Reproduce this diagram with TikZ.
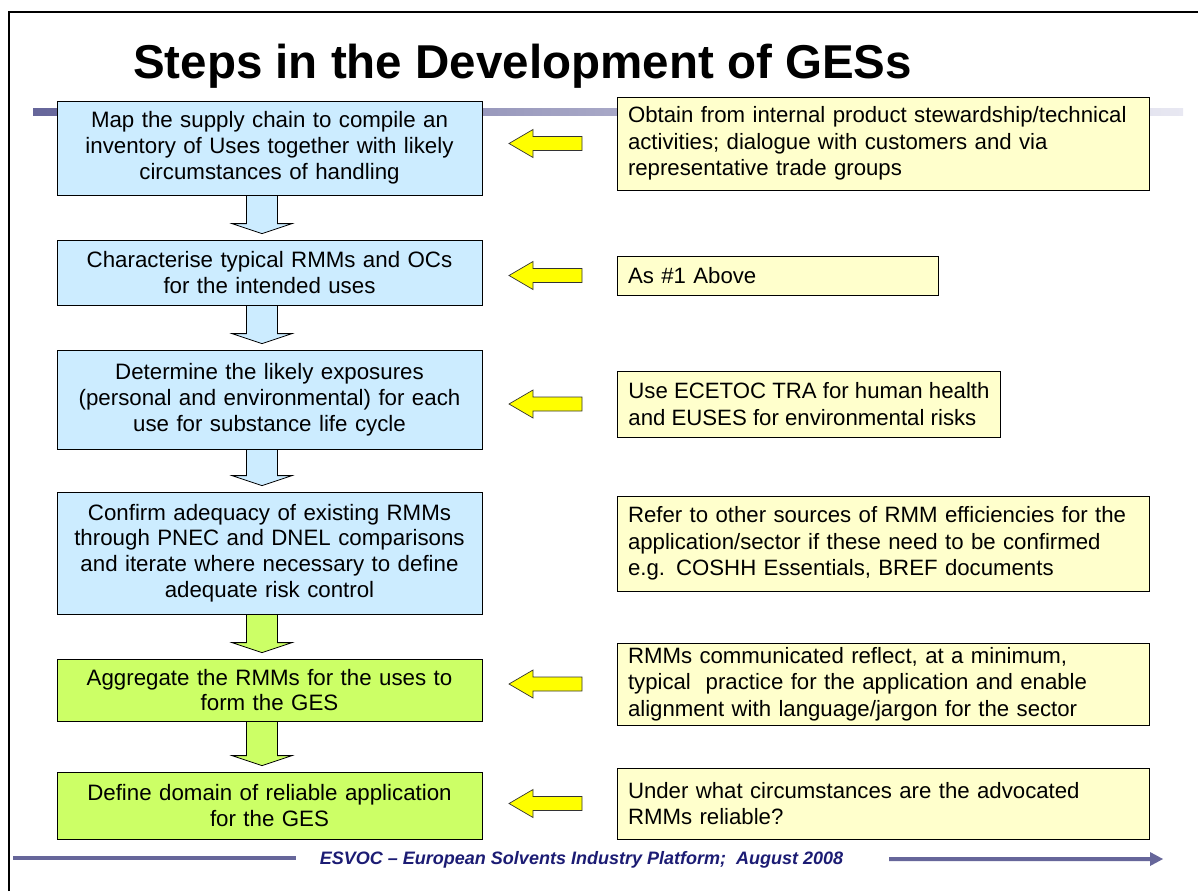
\documentclass[tikz,border=0pt]{standalone}
\usepackage{fontspec}
\setmainfont{Liberation Sans}
\usetikzlibrary{calc}
\definecolor{bluebox}{HTML}{CCECFF}
\definecolor{greenbox}{HTML}{CCFF66}
\definecolor{yelbox}{HTML}{FFFFCC}
\definecolor{yelarrow}{HTML}{FFFF00}
\definecolor{barL}{HTML}{66669A}
\definecolor{barR}{HTML}{E8E8F2}
\definecolor{navy}{HTML}{1C1C74}
\tikzset{
  lbox/.style={draw=black, line width=0.8pt, minimum width=425pt, text width=419pt, align=center, inner xsep=3pt, inner ysep=0pt, font=\fontsize{22.3}{25.8}\selectfont},
  rbox/.style={draw=black, line width=0.8pt, fill=yelbox, inner xsep=11pt, inner ysep=0pt, align=left, font=\fontsize{22.2}{26.7}\selectfont},
  wide/.style={text width=510pt},
  narrow/.style={text width=299pt},
  dnarr/.style={draw=black, line width=0.8pt},
  yarr/.style={draw=black!80, line width=0.7pt, fill=yelarrow}
}
\newcommand{\dnarrow}[3]{%
  \draw[dnarr, fill=#3] let \p1=(#1.south), \p2=(#2.north) in
    (246.5pt,\y1) -- (277.5pt,\y1) -- (277.5pt,{\y2+16pt}) -- (292pt,{\y2+16pt})
    -- (262pt,{\y2+6pt}) -- (232pt,{\y2+16pt}) -- (246.5pt,{\y2+16pt}) -- cycle;}
\newcommand{\lfarrow}[2]{%
  \draw[yarr] let \p1=(#1.west) in
    ({#2-35pt},{\y1+7pt}) -- ({#2-84pt},{\y1+7pt}) -- ({#2-84pt},{\y1+14pt})
    -- ({#2-108pt},\y1) -- ({#2-84pt},{\y1-14pt}) -- ({#2-84pt},{\y1-7pt})
    -- ({#2-35pt},{\y1-7pt}) -- cycle;}
\begin{document}
\begin{tikzpicture}[x=1pt,y=-1pt]
\useasboundingbox (0,0) rectangle (1198,891);
\fill[white] (0,0) rectangle (1198,891);
% frame
\draw[line width=1.5pt] (9,891) -- (9,12) -- (1198,12);
% title
\node[anchor=base west, inner sep=0pt, font=\bfseries\fontsize{47.5}{52}\selectfont] (title) at (133,78) {Steps in the Development of GESs};
% title bar
\shade[left color=barL, right color=barR] (33,108) rectangle (1183,115);
% left boxes
\node[lbox, fill=bluebox, minimum height=94pt] (b1) at (269.5,148) {Map the supply chain to compile an\\inventory of Uses together with likely\\circumstances of handling};
\node[lbox, fill=bluebox, minimum height=65pt] (b2) at (269.5,272.5) {Characterise typical RMMs and OCs\\for the intended uses};
\node[lbox, fill=bluebox, minimum height=99pt] (b3) at (269.5,399.5) {Determine the likely exposures\\(personal and environmental) for each\\use for substance life cycle};
\node[lbox, fill=bluebox, minimum height=122pt] (b4) at (269.5,553) {Confirm adequacy of existing RMMs\\through PNEC and DNEL comparisons\\and iterate where necessary to define\\adequate risk control};
\node[lbox, fill=greenbox, minimum height=62pt] (b5) at (269.5,690) {Aggregate the RMMs for the uses to\\form the GES};
\node[lbox, fill=greenbox, minimum height=67pt] (b6) at (269.5,805.5) {Define domain of reliable application\\for the GES};
% down arrows
\dnarrow{b1}{b2}{bluebox}
\dnarrow{b2}{b3}{bluebox}
\dnarrow{b3}{b4}{bluebox}
\dnarrow{b4}{b5}{greenbox}
\dnarrow{b5}{b6}{greenbox}
% right boxes
\node[rbox, wide, minimum height=93pt] (r1) at (883,143.5) {Obtain from internal product stewardship/technical\\activities; dialogue with customers and via\\representative trade groups};
\node[rbox, narrow, minimum height=39pt] (r2) at (777.5,275.5) {As \#1 Above};
\node[rbox, anchor=west, minimum height=66pt] (r3) at (617,404) {Use ECETOC TRA for human health\\and EUSES for environmental risks};
\node[rbox, wide, minimum height=95pt] (r4) at (883,543.5) {Refer to other sources of RMM efficiencies for the\\application/sector if these need to be confirmed\\e.g. COSHH Essentials, BREF documents};
\node[rbox, wide, minimum height=82pt] (r5) at (883,684) {RMMs communicated reflect, at a minimum,\\typical\ \ practice for the application and enable\\alignment with language/jargon for the sector};
\node[rbox, wide, minimum height=71pt] (r6) at (883,803.5) {Under what circumstances are the advocated\\RMMs reliable?};
% yellow arrows (right end 35 px left of the yellow boxes' left edge at 617)
\lfarrow{r1}{617pt}
\lfarrow{r2}{617pt}
\lfarrow{r3}{617pt}
\lfarrow{r5}{617pt}
\lfarrow{r6}{617pt}
% footer
\node[anchor=base, inner sep=0pt, text=navy, font=\bfseries\itshape\fontsize{18}{20}\selectfont] (foot) at (581.5,864) {ESVOC -- European Solvents Industry Platform;\ \ August 2008};
\fill[barL] (13,856) rectangle (296,860);
\fill[barL] (889,857) rectangle (1150,861) (1150,852) -- (1163,859) -- (1150,866) -- cycle;
\end{tikzpicture}
\end{document}
